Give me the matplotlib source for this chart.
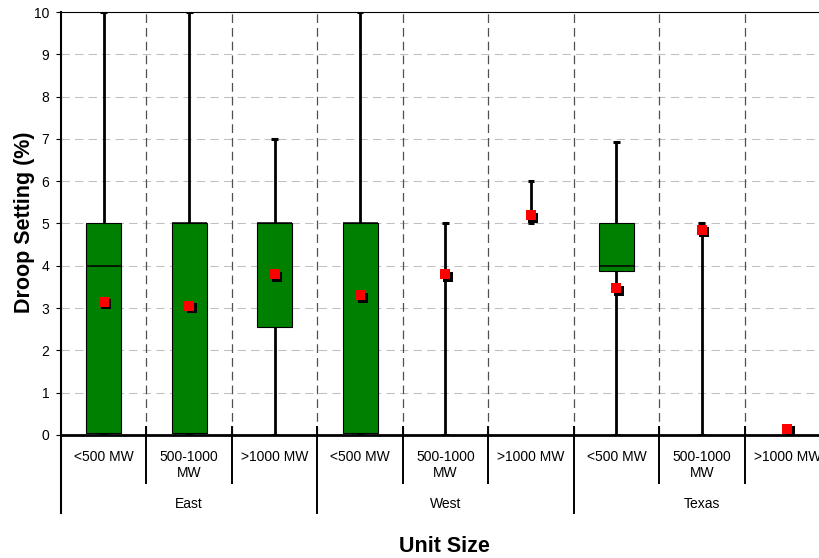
import matplotlib
matplotlib.use('Agg')
import matplotlib.pyplot as plt
import numpy as np
from matplotlib import transforms

plt.rcParams['font.family'] = ['Liberation Sans', 'DejaVu Sans']

# ---- data ----
groups = ['East', 'West', 'Texas']
sizes = ['<500 MW', '500-1000\nMW', '>1000 MW']
whisker_low = [0.0, 0.0, 0.0, 0.0, 0.0, 5.0, 0.0, 0.0, np.nan]
q1 = [0.05, 0.05, 2.55, 0.05, np.nan, np.nan, 3.87, np.nan, np.nan]
median = [4.0, 5.0, 5.0, 5.0, np.nan, np.nan, 4.0, np.nan, np.nan]
q3 = [5.0, 5.0, 5.0, 5.0, np.nan, np.nan, 5.0, np.nan, np.nan]
whisker_high = [10.0, 10.0, 7.0, 10.0, 5.0, 6.0, 6.93, 5.0, np.nan]
mean = [3.15, 3.05, 3.8, 3.3, 3.8, 5.2, 3.47, 4.85, 0.15]
yticks = list(range(0, 11))

W, H = 820, 558
fig = plt.figure(figsize=(W / 100, H / 100), dpi=100)
ax = fig.add_axes([61 / W, 123 / H, 769 / W, 423 / H])

n = len(mean)
x = np.arange(n)
wl = np.array(whisker_low); wh = np.array(whisker_high)
a1 = np.array(q1); a3 = np.array(q3); md = np.array(median); mn = np.array(mean)

ax.set_xlim(-0.5, n - 0.5)
ax.set_ylim(0, 10)

# grid
for v in yticks[1:-1]:
    ax.axhline(v, color='#c0c0c0', lw=0.75, dashes=(8, 5), zorder=0)
for b in np.arange(0.5, n - 0.5, 1):
    ax.axvline(b, color='#505050', lw=0.9, dashes=(7, 4), zorder=0)

# whiskers
m = ~np.isnan(wl)
ax.vlines(x[m], wl[m], wh[m], color='black', lw=2.0, zorder=2)
cw = 0.04
ax.hlines(wl[m], x[m] - cw, x[m] + cw, color='black', lw=2.2, zorder=2)
ax.hlines(wh[m], x[m] - cw, x[m] + cw, color='black', lw=2.2, zorder=2)

# boxes
bw = 0.41
mb = ~np.isnan(a1)
ax.bar(x[mb], a3[mb] - a1[mb], bottom=a1[mb], width=bw, color='#008000',
       edgecolor='black', lw=0.8, zorder=3)
mm = ~np.isnan(md)
ax.hlines(md[mm], x[mm] - bw / 2, x[mm] + bw / 2, color='black', lw=1.1, zorder=4)

# means with shadow
shadow = transforms.offset_copy(ax.transData, fig=fig, x=2.5, y=-2.5, units='dots')
ax.plot(x, mn, 's', color='black', ms=6.5, mew=0, transform=shadow, zorder=5, clip_on=False)
ax.plot(x, mn, 's', color='#ff0000', ms=6.5, mew=0, zorder=6, clip_on=False)

# axes styling
ax.set_yticks(yticks)
ax.set_yticklabels([str(t) for t in yticks])
ax.set_xticks([])
ax.tick_params(axis='y', direction='out', length=3.5, width=0.8, labelsize=10, pad=5)
ax.spines['right'].set_visible(False)
ax.spines['top'].set_linewidth(0.8)
ax.spines['left'].set_linewidth(1.5)
ax.spines['bottom'].set_linewidth(2.0)
for s in ax.spines.values():
    s.set_zorder(7)

# multi-level category axis
trans = transforms.blended_transform_factory(ax.transData, ax.transAxes)
def ay(px):
    return (435 - px) / 423

for i in range(n):
    lab = sizes[i % 3]
    yc = ay(465) if '\n' in lab else ay(457)
    ax.text(i, yc, lab, transform=trans, ha='center', va='center', fontsize=10,
            linespacing=1.15, clip_on=False)
for b in np.arange(0.5, n - 0.5, 1):
    if abs((b + 0.5) % 3) < 1e-9:
        ax.plot([b, b], [ay(427), ay(513)], transform=trans, color='black', lw=1.4, clip_on=False)
    else:
        ax.plot([b, b], [ay(427), ay(483)], transform=trans, color='black', lw=1.4, clip_on=False)
ax.plot([-0.5, -0.5], [0, ay(513)], transform=trans, color='black', lw=1.5, clip_on=False)
for gi, g in enumerate(groups):
    ax.text(gi * 3 + 1, ay(504), g, transform=trans, ha='center', va='center', fontsize=10)

fig.text(444.5 / W, 1 - 547 / H, 'Unit Size', ha='center', va='center', fontsize=15.5, fontweight='bold')
fig.text(25 / W, 1 - 222 / H, 'Droop Setting (%)', ha='center', va='center', rotation=90,
         fontsize=15.5, fontweight='bold')

fig.savefig('out.png', dpi=100)
